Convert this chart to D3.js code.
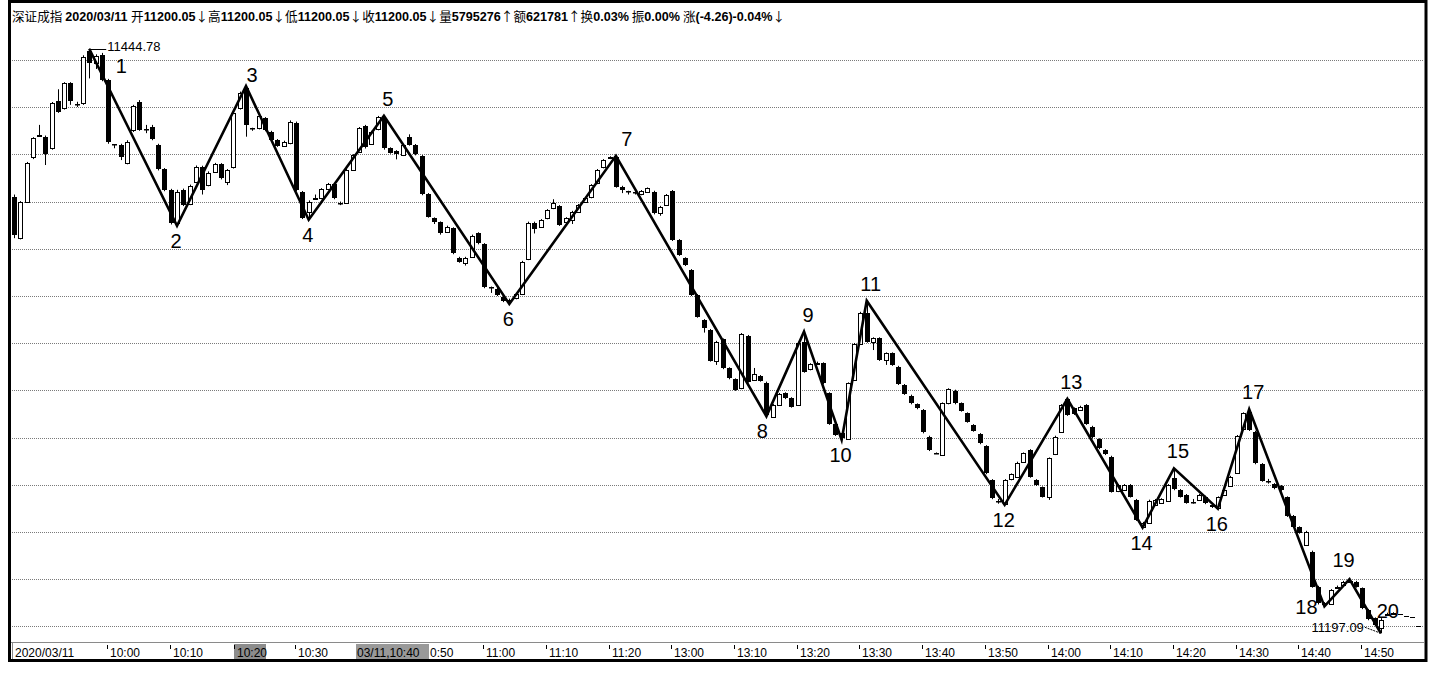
<!DOCTYPE html>
<html><head><meta charset="utf-8">
<script src="https://cdn.jsdelivr.net/npm/d3@7"></script>
<style>body{margin:0;background:#fff}svg{display:block}</style>
</head><body>
<svg id="chart" width="1436" height="676"></svg>
<script>
// ---- data (1-minute bars, 2020/03/11, 深证成指) : [open, high, low, close]
const bars = [
[11382.1,11383.0,11364.5,11365.8],[11364.4,11380.2,11364.0,11379.7],[11380.0,11396.8,11379.5,11396.2],[11398.8,11407.3,11398.0,11406.8],
[11407.9,11412.5,11407.7,11408.1],[11407.5,11408.0,11395.5,11400.2],[11402.6,11422.2,11402.0,11421.7],[11422.8,11427.6,11417.6,11418.1],
[11419.5,11430.6,11419.0,11430.1],[11430.1,11430.6,11421.0,11422.6],[11421.5,11422.3,11420.1,11421.3],[11421.7,11442.0,11421.0,11441.4],
[11443.8,11444.78,11432.2,11438.6],[11438.6,11442.4,11436.2,11441.7],[11442.1,11443.0,11431.0,11431.5],[11431.5,11432.0,11404.5,11405.4],
[11404.2,11404.4,11402.6,11404.0],[11404.0,11404.5,11397.6,11398.8],[11396.2,11406.0,11395.8,11405.4],[11410.3,11421.0,11409.5,11420.5],
[11422.3,11423.0,11410.0,11410.3],[11410.7,11412.5,11409.0,11410.5],[11411.5,11412.5,11406.0,11406.4],[11404.0,11404.5,11393.2,11393.7],
[11393.7,11394.2,11384.4,11384.9],[11384.9,11385.4,11370.3,11370.8],[11370.8,11385.0,11369.7,11384.2],[11384.9,11385.5,11378.1,11378.6],
[11379.0,11387.2,11378.5,11386.6],[11388.4,11395.3,11388.0,11394.8],[11394.8,11395.2,11383.0,11384.9],[11387.0,11392.8,11386.5,11392.2],
[11392.7,11396.4,11392.3,11395.9],[11395.9,11396.3,11389.4,11389.9],[11388.4,11393.8,11387.0,11393.4],[11394.5,11418.2,11394.0,11417.7],
[11419.5,11426.6,11419.0,11426.1],[11428.0,11429.0,11407.5,11412.5],[11411.1,11411.3,11410.0,11411.0],[11411.0,11416.8,11410.6,11416.3],
[11415.3,11415.8,11409.8,11410.3],[11409.6,11410.0,11405.6,11406.1],[11406.1,11406.5,11403.2,11403.6],[11403.6,11405.8,11403.2,11405.4],
[11404.7,11414.4,11404.3,11413.9],[11413.4,11413.9,11384.5,11385.0],[11384.0,11384.5,11372.6,11372.9],[11375.7,11380.5,11372.3,11380.0],
[11381.4,11383.0,11381.2,11381.5],[11381.4,11385.7,11381.0,11385.2],[11385.2,11387.9,11384.9,11387.5],[11387.5,11387.9,11381.0,11381.4],
[11379.6,11380.0,11378.5,11379.5],[11379.3,11393.8,11379.0,11393.4],[11393.4,11400.1,11393.0,11399.7],[11401.1,11411.6,11400.7,11411.1],
[11412.0,11412.5,11402.5,11403.0],[11404.4,11410.0,11404.0,11409.6],[11410.6,11416.3,11410.2,11416.0],[11415.3,11416.4,11402.0,11402.6],
[11402.6,11403.0,11400.3,11400.7],[11401.4,11401.8,11397.9,11400.0],[11399.7,11404.4,11399.3,11404.0],[11407.5,11408.5,11403.7,11404.0],
[11404.0,11404.4,11399.6,11400.0],[11399.3,11399.7,11382.7,11383.1],[11383.2,11383.6,11373.2,11373.6],[11372.9,11373.3,11370.5,11371.5],
[11371.2,11371.6,11366.0,11366.8],[11367.2,11369.8,11366.8,11369.4],[11368.7,11369.1,11357.7,11358.1],[11356.2,11356.6,11354.1,11354.5],
[11354.1,11356.6,11352.9,11356.2],[11356.7,11366.0,11356.3,11365.6],[11366.6,11367.0,11361.9,11362.3],[11362.0,11362.4,11343.3,11343.7],
[11343.8,11344.0,11341.3,11343.6],[11343.0,11343.4,11340.0,11340.4],[11339.7,11340.1,11337.4,11337.8],[11338.5,11338.9,11336.6,11337.6],
[11339.0,11341.2,11338.6,11340.8],[11340.8,11354.9,11340.4,11354.5],[11355.6,11371.5,11355.2,11371.1],[11371.1,11371.5,11366.5,11368.3],
[11369.4,11372.6,11369.0,11372.2],[11372.9,11376.8,11372.5,11376.4],[11377.2,11381.0,11376.8,11379.3],[11378.1,11378.5,11369.7,11370.1],
[11371.4,11373.4,11371.0,11373.0],[11372.2,11376.1,11370.5,11375.7],[11375.7,11379.0,11375.3,11378.6],[11380.0,11381.8,11379.6,11381.4],
[11381.8,11387.4,11381.4,11387.0],[11387.8,11393.8,11387.4,11393.4],[11394.5,11398.0,11394.1,11397.6],[11398.9,11399.2,11398.0,11399.0],
[11399.0,11399.4,11385.9,11386.3],[11386.3,11386.7,11383.6,11384.9],[11384.3,11384.6,11383.0,11384.2],[11383.9,11384.3,11383.0,11383.8],
[11383.1,11384.9,11382.7,11384.5],[11384.2,11386.0,11383.8,11385.6],[11384.2,11384.6,11374.6,11375.0],[11375.3,11378.2,11374.0,11377.8],
[11378.6,11383.2,11378.2,11382.8],[11384.5,11384.9,11363.3,11363.7],[11363.7,11364.1,11357.0,11357.4],[11356.0,11356.4,11352.7,11353.1],
[11351.0,11351.4,11340.0,11340.4],[11340.4,11340.8,11330.8,11331.2],[11329.8,11330.2,11324.5,11326.3],[11325.6,11326.0,11312.2,11312.6],
[11312.6,11321.0,11310.8,11320.6],[11321.6,11322.0,11309.0,11309.4],[11309.4,11309.8,11304.7,11305.1],[11304.7,11305.1,11299.8,11300.2],
[11300.9,11324.3,11300.5,11323.9],[11323.1,11323.5,11303.3,11303.7],[11304.4,11309.5,11304.0,11306.8],[11306.1,11306.5,11303.7,11304.1],
[11303.3,11303.7,11289.0,11289.4],[11288.9,11294.2,11289.2,11293.8],[11293.8,11298.9,11293.4,11298.5],[11298.8,11299.2,11296.3,11296.7],
[11296.7,11297.1,11292.7,11293.1],[11293.8,11320.6,11293.4,11320.2],[11320.6,11324.9,11307.5,11307.9],[11308.9,11311.5,11308.5,11311.1],
[11311.4,11312.2,11310.8,11311.5],[11311.5,11311.9,11302.6,11303.0],[11298.8,11299.2,11285.4,11285.8],[11285.8,11286.2,11280.7,11281.1],
[11282.0,11282.4,11279.0,11280.0],[11279.2,11303.4,11279.1,11303.0],[11304.4,11320.1,11304.0,11319.7],[11319.7,11333.3,11319.3,11332.9],
[11332.9,11338.0,11320.2,11320.6],[11320.6,11322.5,11317.1,11322.1],[11322.1,11322.5,11312.5,11312.9],[11312.9,11316.1,11310.8,11315.7],
[11315.7,11316.1,11310.4,11310.8],[11310.0,11310.4,11302.3,11302.7],[11302.3,11302.7,11298.1,11298.5],[11297.8,11298.2,11294.1,11294.5],
[11294.1,11294.5,11292.0,11292.4],[11291.7,11292.1,11281.8,11282.2],[11280.4,11280.8,11274.3,11274.7],[11273.5,11273.7,11273.2,11273.4],
[11272.6,11294.9,11272.2,11294.5],[11294.5,11300.9,11294.1,11300.5],[11299.9,11300.3,11294.1,11294.5],[11294.5,11294.9,11291.0,11291.4],
[11290.3,11290.7,11286.3,11286.7],[11285.3,11285.7,11282.5,11282.9],[11281.5,11281.9,11277.2,11277.6],[11276.4,11276.8,11264.5,11264.9],
[11262.0,11262.4,11253.9,11254.3],[11253.0,11254.0,11252.0,11252.8],[11251.9,11262.4,11251.5,11262.0],[11262.3,11264.8,11261.9,11264.4],
[11263.4,11269.8,11263.0,11269.4],[11269.8,11273.7,11269.4,11273.3],[11274.7,11275.1,11263.0,11263.4],[11262.0,11262.4,11259.5,11259.9],
[11258.9,11259.3,11254.6,11255.0],[11254.7,11271.6,11253.6,11271.2],[11273.0,11280.8,11272.6,11280.4],[11282.5,11294.2,11282.1,11293.8],
[11296.2,11296.4,11289.2,11289.6],[11292.4,11292.8,11289.6,11290.0],[11291.7,11293.5,11291.3,11293.1],[11293.8,11294.2,11285.4,11285.8],
[11284.6,11285.0,11279.7,11280.1],[11279.3,11279.7,11275.1,11275.5],[11274.7,11275.1,11272.6,11273.0],[11271.9,11272.3,11256.7,11257.1],
[11257.3,11260.3,11256.9,11259.9],[11257.8,11260.3,11257.4,11259.9],[11259.9,11260.3,11254.6,11255.0],[11253.6,11254.0,11244.7,11245.1],
[11242.2,11244.3,11241.9,11243.9],[11243.9,11253.7,11243.5,11253.3],[11251.4,11254.0,11251.0,11253.6],[11252.4,11254.3,11252.0,11253.9],
[11253.3,11260.3,11252.9,11259.9],[11262.8,11267.0,11257.7,11258.1],[11257.8,11258.2,11254.6,11255.0],[11255.7,11256.1,11252.0,11252.4],
[11252.9,11254.0,11252.0,11252.8],[11253.6,11256.1,11253.2,11255.7],[11255.0,11255.4,11251.8,11252.2],[11251.4,11251.8,11250.2,11250.4],
[11250.0,11255.1,11249.9,11254.7],[11255.7,11258.2,11255.3,11257.8],[11259.5,11263.8,11259.1,11263.4],[11265.1,11281.1,11264.7,11280.7],
[11283.5,11290.7,11283.1,11290.3],[11291.0,11292.0,11282.8,11283.2],[11282.5,11282.9,11268.7,11269.1],[11268.8,11269.2,11261.3,11261.7],
[11261.4,11262.5,11260.5,11261.3],[11260.3,11260.7,11258.1,11258.5],[11259.5,11259.9,11257.4,11257.8],[11254.7,11255.1,11246.4,11246.8],
[11246.8,11247.2,11241.8,11242.2],[11242.0,11242.4,11239.3,11239.7],[11234.5,11240.5,11234.1,11240.1],[11231.7,11232.1,11216.4,11216.8],
[11216.8,11217.2,11209.3,11209.8],[11209.5,11210.3,11208.5,11209.9],[11209.5,11215.8,11209.1,11215.4],[11216.7,11217.3,11216.3,11216.9],
[11217.5,11219.3,11217.1,11218.9],[11219.2,11220.0,11218.8,11219.3],[11218.9,11219.3,11216.4,11216.8],[11216.1,11216.5,11207.3,11207.7],
[11207.0,11207.4,11202.6,11203.0],[11203.4,11203.8,11200.2,11200.6],[11199.3,11203.5,11197.09,11202.7],[11205.0,11205.8,11204.6,11205.3],
[11205.4,11206.0,11205.0,11205.6],[11205.3,11205.3,11205.3,11205.3],[11204.6,11204.6,11204.6,11204.6],[11204.0,11204.0,11204.0,11204.0],
[11200.05,11200.05,11200.05,11200.05]
];
// zig-zag turning points: bar index and price
const pivotIndex = [12,26,37,47,59,79,96,120,126,132,136,158,168,180,185,192,197,209,213,218];
const pivotPrice = [11444.78,11369.7,11429.0,11372.3,11416.4,11336.6,11399.4,11289.0,11324.9,11279.0,11338.0,11251.5,11296.4,11241.9,11267.0,11249.9,11292.0,11208.5,11220.0,11197.09];
const pivotLabels = ["1","2","3","4","5","6","7","8","9","10","11","12","13","14","15","16","17","18","19","20"];
// horizontal grid levels
const gridLevels = [11200,11220,11240,11260,11280,11300,11320,11340,11360,11380,11400,11420,11440];
// time axis
const tickIndex = [15,25,35,45,55,65,75,85,95,105,115,125,135,145,155,165,175,185,195,205,215];
const tickLabels = ["10:00","10:10","10:20","10:30","10:40","10:50","11:00","11:10","11:20","13:00","13:10","13:20","13:30","13:40","13:50","14:00","14:10","14:20","14:30","14:40","14:50"];
const dateLabel = "2020/03/11";
const cursorLabel = "03/11,10:40";
const highLabel = "11444.78", lowLabel = "11197.09";
const headerParts = [["深证成指 ",0],["2020/03/11 ",1],["开",0],["11200.05",1],["↓",0],["高",0],["11200.05",1],["↓",0],
  ["低",0],["11200.05",1],["↓",0],["收",0],["11200.05",1],["↓",0],["量",0],["5795276",1],["↑",0],["额",0],["621781",1],["↑",0],
  ["换",0],["0.03%",1],[" 振",0],["0.00%",1],[" 涨",0],["(-4.26)-0.04%",1],["↓",0]];

// ---- drawing
const svg = d3.select("#chart");
const FONT = "'Liberation Sans', Arial, 'Noto Sans CJK SC', sans-serif";
const x = d3.scaleLinear().domain([0, bars.length - 1]).range([14, 14 + (bars.length - 1) * 6.27]);
const y = d3.scaleLinear().domain([11200, 11440]).range([626.4, 60]);

svg.append("rect").attr("width",1436).attr("height",676).attr("fill","#fff");

// grid
svg.append("g").selectAll("line").data(gridLevels).join("line")
  .attr("x1",12).attr("x2",1424)
  .attr("y1",d=>Math.round(y(d))+0.5).attr("y2",d=>Math.round(y(d))+0.5)
  .attr("stroke","#7a7a7a").attr("stroke-dasharray","1,1").attr("stroke-width",1);

// candles
const cg = svg.append("g");
bars.forEach((b,i)=>{
  const [o,h,l,c] = b;
  const cx = Math.round(x(i));
  cg.append("line").attr("x1",cx+0.5).attr("x2",cx+0.5)
    .attr("y1",y(h)).attr("y2",y(l)).attr("stroke","#000").attr("stroke-width",1);
});
bars.forEach((b,i)=>{
  const [o,h,l,c] = b;
  const cx = Math.round(x(i));
  if (c > o) {
    const top = Math.round(y(c)) + 0.5, bot = Math.round(y(o)) + 0.5;
    cg.append("rect").attr("x",cx-1.5).attr("y",top).attr("width",4).attr("height",Math.max(1,bot-top))
      .attr("fill","#fff").attr("stroke","#000").attr("stroke-width",1);
  } else if (c < o) {
    const top = Math.round(y(o)), bot = Math.round(y(c));
    cg.append("rect").attr("x",cx-2).attr("y",top).attr("width",5).attr("height",Math.max(1.5,bot-top))
      .attr("fill","#000");
  } else {
    const yy = Math.round(y(o)) + 0.5;
    cg.append("line").attr("x1",cx-2).attr("x2",cx+3).attr("y1",yy).attr("y2",yy)
      .attr("stroke","#000").attr("stroke-width",1);
  }
});

// zig-zag line
const zz = pivotIndex.map((d,k)=>[x(d), y(pivotPrice[k])]);
svg.append("path").attr("d", d3.line()(zz)).attr("fill","none")
  .attr("stroke","#000").attr("stroke-width",2.6).attr("stroke-linejoin","miter");

// pivot labels
const nudge = {0:[32,24], 2:[6,-4], 6:[11,-10], 7:[-4,22], 17:[-18,8], 18:[-6,-12], 19:[7,-15]};
pivotIndex.forEach((d,k)=>{
  const isHigh = k % 2 === 0;
  let dx = isHigh ? 4 : -1, dy = isHigh ? -10 : 22;
  if (nudge[k]) { dx = nudge[k][0]; dy = nudge[k][1]; }
  svg.append("text").attr("x", x(d)+dx).attr("y", y(pivotPrice[k])+dy)
    .attr("text-anchor","middle").attr("font-family",FONT).attr("font-size",20)
    .attr("fill","#000").text(pivotLabels[k]);
});

// extreme labels
const hx = x(pivotIndex[0]), hy = y(pivotPrice[0]);
svg.append("line").attr("x1",hx).attr("x2",hx+17).attr("y1",Math.round(hy)+0.5).attr("y2",Math.round(hy)+0.5)
  .attr("stroke","#000").attr("stroke-width",1);
svg.append("text").attr("x",hx+18).attr("y",hy+2.5).attr("font-family",FONT).attr("font-size",13)
  .attr("fill","#000").text(highLabel);
const lx = x(pivotIndex[19]), ly = y(pivotPrice[19]);
svg.append("line").attr("x1",lx-16).attr("x2",lx).attr("y1",ly-6).attr("y2",ly)
  .attr("stroke","#000").attr("stroke-width",1).attr("stroke-dasharray","2,1");
svg.append("text").attr("x",lx-17).attr("y",ly-1).attr("text-anchor","end").attr("font-family",FONT).attr("font-size",13)
  .attr("fill","#000").text(lowLabel);

// header
const ht = svg.append("text").attr("x",12).attr("y",21).attr("font-family",FONT).attr("font-size",12.6).attr("fill","#000");
headerParts.forEach(p=>{
  ht.append("tspan").attr("font-weight", p[1] ? "bold" : "normal")
    .attr("font-family", p[1] ? FONT : "'Noto Sans CJK SC', 'Liberation Sans', sans-serif").text(p[0]);
});

// time axis
svg.append("line").attr("x1",11).attr("x2",1424).attr("y1",642.5).attr("y2",642.5).attr("stroke","#8a8a8a");
svg.append("line").attr("x1",12.5).attr("x2",12.5).attr("y1",643).attr("y2",659).attr("stroke","#8a8a8a");
const ag = svg.append("g");
const cbx = Math.round(x(tickIndex[4])) - 3, cbw = 73;
tickIndex.forEach((d,k)=>{
  const tx = Math.round(x(d)) + (k === 2 ? 2 : 0) - 1;
  if (k === 2) {
    ag.append("rect").attr("x",tx).attr("y",644).attr("width",32).attr("height",15).attr("fill","#8c8c8c");
  }
  if (k === 4) return;            // hidden under the cursor box
  ag.append("line").attr("x1",tx+0.5).attr("x2",tx+0.5).attr("y1",645).attr("y2",649).attr("stroke","#000");
  let label = tickLabels[k], lxp = tx + 3;
  if (lxp < cbx + cbw && lxp > cbx) { label = label.slice(1); lxp = cbx + cbw + 1; }  // partly covered by the box
  ag.append("text").attr("x",lxp).attr("y",657).attr("font-family",FONT).attr("font-size",12)
    .attr("fill","#000").text(label);
});
ag.append("text").attr("x",15).attr("y",657).attr("font-family",FONT).attr("font-size",12).attr("fill","#000").text(dateLabel);
// cursor box
ag.append("rect").attr("x",cbx).attr("y",644).attr("width",cbw).attr("height",15).attr("fill","#999");
ag.append("text").attr("x",cbx+1).attr("y",657).attr("font-family",FONT).attr("font-size",12).attr("fill","#000").text(cursorLabel);

// frame
svg.append("rect").attr("x",9.5).attr("y",1.5).attr("width",1416.5).attr("height",659)
  .attr("fill","none").attr("stroke","#000").attr("stroke-width",3);
</script>
</body></html>
